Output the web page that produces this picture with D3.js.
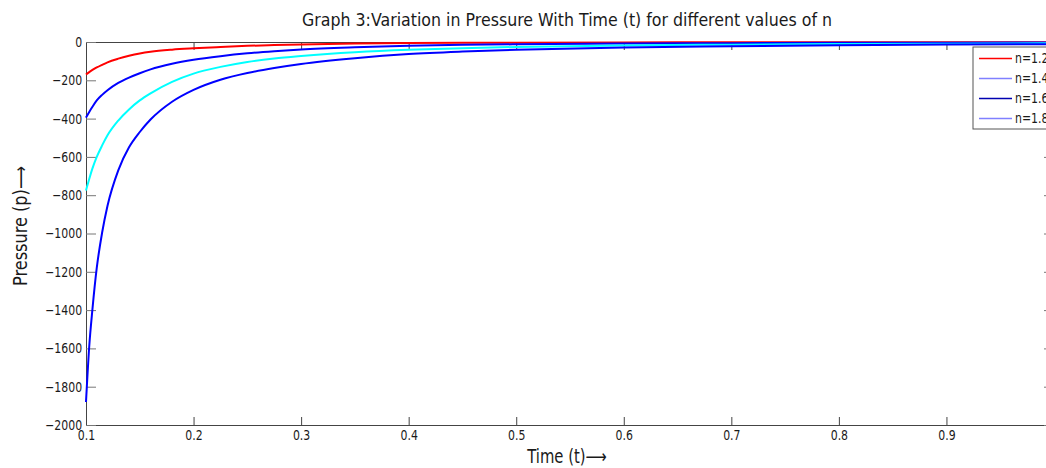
<!DOCTYPE html>
<html lang="en">
<head>
    <meta charset="UTF-8">
    <title>Graph 3</title>
    <script src="https://d3js.org/d3.v7.min.js"></script>
    <style>
        body { margin: 0; background: #fff; }
        text { font-family: "DejaVu Sans", sans-serif; fill: #1a1a1a; }
        .title { font-size: 18px; }
        .axis-label { font-size: 19px; }
        .tick-label { font-size: 14px; }
        .legend-text { font-size: 14px; }
    </style>
</head>
<body>
    <svg width="1046" height="468"></svg>
    <script>
        // values
        const times = [0.1, 0.103, 0.106, 0.11, 0.115, 0.12, 0.13, 0.14, 0.15, 0.16, 0.18, 0.2,
                       0.225, 0.25, 0.275, 0.3, 0.35, 0.4, 0.45, 0.5, 0.6, 0.7, 0.8, 0.9, 1.0];
        const pN12 = [-170, -157, -146, -133, -119, -106, -87, -72, -60, -51, -40, -33,
                      -26, -20, -16, -12.5, -8, -5.5, -4.2, -3.3, -2.3, -1.7, -1.3, -1, -0.8];
        const pN14 = [-395, -365, -338, -305, -276, -252, -214, -186, -163, -143, -114, -93,
                      -74, -59, -48, -39, -27.5, -19.5, -15, -12, -8, -6, -4.5, -3.5, -3];
        const pN16 = [-775, -715, -660, -600, -540, -487, -410, -352, -305, -268, -208, -165,
                      -130, -104, -86, -73, -53, -40, -32, -26, -18.5, -13.8, -10.8, -8.6, -7];
        const pN18 = [-1880, -1590, -1395, -1180, -995, -855, -670, -550, -470, -405, -312, -250,
                      -197, -162, -136, -115, -85, -63, -50, -41, -29, -22, -17, -13.5, -11];
        const seriesNames = ["n=1.2", "n=1.4", "n=1.6", "n=1.8"];
        const seriesValues = [pN12, pN14, pN16, pN18];
        const lineColors = ["#ff0000", "#0000ff", "#00ffff", "#0000ff"];
        const legendColors = ["#ff0000", "#8080ff", "#0000b0", "#8080ff"];
        const xTicks = [0.1, 0.2, 0.3, 0.4, 0.5, 0.6, 0.7, 0.8, 0.9];
        const yTicks = [0, -200, -400, -600, -800, -1000, -1200, -1400, -1600, -1800, -2000];

        const svg = d3.select("svg");
        const plotLeft = 86, plotRight = 1054, plotTop = 42, plotBottom = 425;
        const narrow = "scale(0.78,1)"; // the original uses a tall narrow face

        const x = d3.scaleLinear().domain([0.1, 1.0]).range([plotLeft, plotRight]);
        const y = d3.scaleLinear().domain([-2000, 0]).range([plotBottom, plotTop]);

        // axes, ticks pointing inwards
        const axisColor = "#444";
        svg.append("g")
            .attr("transform", `translate(0,${plotBottom})`)
            .call(d3.axisBottom(x).tickValues(xTicks).tickSizeInner(-8).tickSizeOuter(0).tickPadding(5).tickFormat(d3.format(".1f")))
            .call(g => g.select(".domain").attr("stroke", axisColor))
            .call(g => g.selectAll(".tick line").attr("stroke", axisColor))
            .call(g => g.selectAll(".tick text").attr("class", "tick-label").attr("transform", narrow));
        svg.append("g")
            .attr("transform", `translate(0,${plotTop})`)
            .call(d3.axisTop(x).tickValues(xTicks).tickSizeInner(-8).tickSizeOuter(0).tickFormat(""))
            .call(g => g.select(".domain").attr("stroke", axisColor))
            .call(g => g.selectAll(".tick line").attr("stroke", axisColor));
        svg.append("g")
            .attr("transform", `translate(${plotLeft},0)`)
            .call(d3.axisLeft(y).tickValues(yTicks).tickSizeInner(-10).tickSizeOuter(0).tickPadding(5).tickFormat(d3.format("d")))
            .call(g => g.select(".domain").attr("stroke", axisColor))
            .call(g => g.selectAll(".tick line").attr("stroke", "#777"))
            .call(g => g.selectAll(".tick text").attr("class", "tick-label").attr("transform", narrow));
        svg.append("g")
            .attr("transform", `translate(${plotRight},0)`)
            .call(d3.axisRight(y).tickValues(yTicks).tickSizeInner(-10).tickSizeOuter(0).tickFormat(""))
            .call(g => g.select(".domain").attr("stroke", axisColor))
            .call(g => g.selectAll(".tick line").attr("stroke", "#777"));
        svg.selectAll("g").attr("font-family", null).attr("font-size", null);

        // curves
        const line = d3.line()
            .x((d, i) => x(times[i]))
            .y(d => y(d))
            .curve(d3.curveMonotoneX);
        seriesValues.forEach((vals, k) => {
            svg.append("path")
                .datum(vals)
                .attr("d", line)
                .attr("fill", "none")
                .attr("stroke", lineColors[k])
                .attr("stroke-width", 2);
        });

        // legend
        const lg = svg.append("g").attr("transform", "translate(973,47)");
        lg.append("rect")
            .attr("width", 90).attr("height", 82)
            .attr("fill", "#fff").attr("stroke", "#555");
        seriesNames.forEach((name, k) => {
            const yy = 11.5 + k * 20;
            lg.append("line")
                .attr("x1", 6).attr("x2", 39)
                .attr("y1", yy).attr("y2", yy)
                .attr("stroke", legendColors[k]).attr("stroke-width", 1.5);
            lg.append("text")
                .attr("class", "legend-text")
                .attr("transform", `translate(42,${yy + 1}) ${narrow}`)
                .attr("dominant-baseline", "middle")
                .text(name);
        });

        // titles
        svg.append("text")
            .attr("class", "title")
            .attr("x", 567).attr("y", 26)
            .attr("text-anchor", "middle")
            .attr("textLength", 530).attr("lengthAdjust", "spacingAndGlyphs")
            .text("Graph 3:Variation in Pressure With Time (t) for different values of n");
        svg.append("text")
            .attr("class", "axis-label")
            .attr("transform", `translate(567,463) ${narrow}`)
            .attr("text-anchor", "middle")
            .text("Time (t)\u27F6");
        svg.append("text")
            .attr("class", "axis-label")
            .attr("transform", "translate(27,226) rotate(-90) scale(0.85,1)")
            .attr("text-anchor", "middle")
            .text("Pressure (p)\u27F6");
    </script>
</body>
</html>
